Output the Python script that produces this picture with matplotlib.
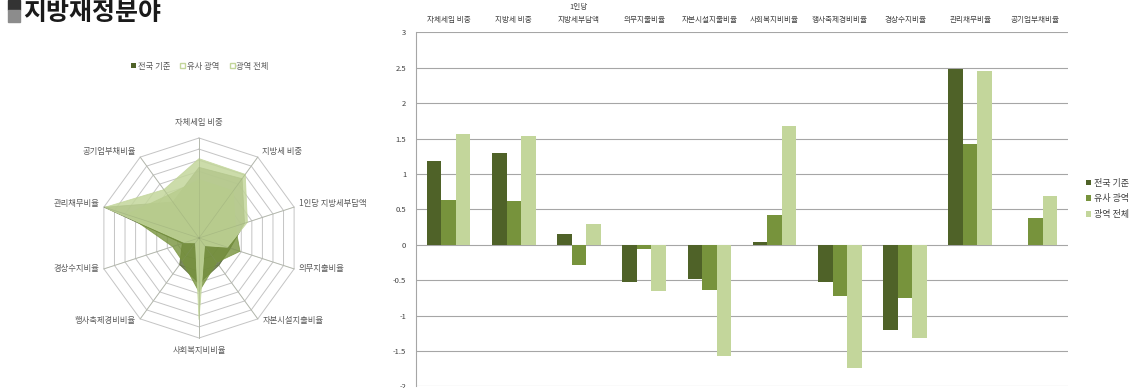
"""지방재정분야 — radar + grouped bar chart."""
import numpy as np
import matplotlib
matplotlib.use("Agg")
import matplotlib.pyplot as plt
from matplotlib.patches import Patch, Rectangle
from matplotlib.ticker import FuncFormatter

plt.rcParams["font.family"] = ["Noto Sans CJK KR", "DejaVu Sans"]

# ---- data ----
categories = ["자체세입 비중", "지방세 비중", "1인당\n지방세부담액", "의무지출비율", "자본시설지출비율",
              "사회복지비비율", "행사축제경비비율", "경상수지비율", "관리채무비율", "공기업부채비율"]
radar_labels = ["자체세입 비중", "지방세 비중", "1인당 지방세부담액", "의무지출비율", "자본시설지출비율",
                "사회복지비비율", "행사축제경비비율", "경상수지비율", "관리채무비율", "공기업부채비율"]
series_names = ["전국 기준", "유사 광역", "광역 전체"]
national = [1.18, 1.30, 0.155, -0.52, -0.48, 0.04, -0.52, -1.21, 2.48, 0.0]
similar = [0.63, 0.62, -0.28, -0.06, -0.645, 0.42, -0.72, -0.75, 1.42, 0.38]
metro = [1.57, 1.54, 0.29, -0.655, -1.575, 1.68, -1.735, -1.32, 2.46, 0.69]
y_ticks = [-2, -1.5, -1, -0.5, 0, 0.5, 1, 1.5, 2, 2.5, 3]
radar_min, radar_max, radar_step = -2.0, 2.5, 0.5

COLORS = {
    "dark":  "#4f6228",
    "mid":   "#77933c",
    "light": "#c3d69b",
    "grid":  "#a6a6a6",
    "rgrid": "#c4c4c4",
    "text":  "#404040",
    "rtext": "#5a5a5a",
}
series_colors = [COLORS["dark"], COLORS["mid"], COLORS["light"]]
radar_alpha = [0.75, 0.8, 0.85]
all_series = [national, similar, metro]

W, H = 1139, 388
fig = plt.figure(figsize=(W / 100, H / 100), dpi=100)

# ---- title ----
fig.patches.append(Rectangle((7.5 / W, 1 - 9.5 / H), 12.5 / W, 9.5 / H,
                             transform=fig.transFigure, color="#333333"))
fig.patches.append(Rectangle((7.5 / W, 1 - 22 / H), 12.5 / W, 12.5 / H,
                             transform=fig.transFigure, color="#8c8c8c"))
fig.text(23 / W, 1 - 12.5 / H, "지방재정분야", fontsize=18, fontweight="bold",
         color="#1a1a1a", va="center", ha="left")

# ---- radar (left) ----
rax = fig.add_axes([0, 0, 380 / W, (H - 40) / H])
rax.set_xlim(-1.99, 1.81)
rax.set_ylim(-1.50, 1.98)
rax.axis("off")

n = len(radar_labels)
theta = np.pi / 2 - np.arange(n) * 2 * np.pi / n
ring_levels = np.arange(radar_min + radar_step, radar_max + 1e-9, radar_step)


def to_xy(vals):
    r = (np.asarray(vals, dtype=float) - radar_min) / (radar_max - radar_min)
    x = r * np.cos(theta)
    y = r * np.sin(theta)
    return np.append(x, x[0]), np.append(y, y[0])


for lvl in ring_levels:
    x, y = to_xy([lvl] * n)
    rax.plot(x, y, color=COLORS["rgrid"], lw=0.7, zorder=1)
for t in theta:
    rax.plot([0, np.cos(t)], [0, np.sin(t)], color=COLORS["rgrid"], lw=0.7, zorder=1)

for vals, c, a in zip(all_series, series_colors, radar_alpha):
    x, y = to_xy(vals)
    rax.fill(x, y, color=c, alpha=a, lw=0.6, zorder=2)
# spokes faintly visible through the fill
for t in theta:
    rax.plot([0, np.cos(t)], [0, np.sin(t)], color="#8a9a70", lw=0.5, alpha=0.35, zorder=3)

for t, lab in zip(theta, radar_labels):
    cx, cy = np.cos(t), np.sin(t)
    if abs(cx) < 1e-6:
        rax.text(0, cy * 1.15 if cy > 0 else cy * 1.12, lab, ha="center", va="center",
                 fontsize=6, color=COLORS["rtext"])
    else:
        ha = "left" if cx > 0 else "right"
        rax.text(cx + np.sign(cx) * 0.045, cy * 1.04 + 0.02, lab, ha=ha, va="center",
                 fontsize=6, color=COLORS["rtext"])

rleg = [Patch(facecolor=COLORS["dark"], edgecolor="none"),
        Patch(facecolor="white", edgecolor=COLORS["light"]),
        Patch(facecolor="white", edgecolor=COLORS["light"])]
fig.legend(rleg, series_names, loc="center", bbox_to_anchor=(200 / W, 1 - 66 / H),
           ncol=3, frameon=False, fontsize=6, handlelength=0.6, handleheight=0.6,
           handletextpad=0.2, columnspacing=1.2, labelcolor=COLORS["rtext"])

# ---- bar chart (right) ----
ax = fig.add_axes([416 / W, (H - 386.4) / H, 652 / W, (386.4 - 32.3) / H])
xpos = np.arange(len(categories))
bw = 2 / 9
for i, (vals, c, name) in enumerate(zip(all_series, series_colors, series_names)):
    ax.bar(xpos + (i - 1) * bw, vals, width=bw, color=c, label=name, zorder=3)

ax.set_xlim(-0.5, len(categories) - 0.5)
ax.set_ylim(-2, 3)
ax.set_yticks(y_ticks)
ax.yaxis.set_major_formatter(FuncFormatter(lambda v, _: f"{v:g}"))
ax.grid(True, axis="y", color=COLORS["grid"], lw=0.8, zorder=0)
ax.xaxis.tick_top()
ax.set_xticks(xpos)
ax.set_xticklabels(categories, fontsize=5.5, color=COLORS["text"], linespacing=1.9)
ax.tick_params(axis="x", length=0, pad=6)
ax.tick_params(axis="y", length=0, pad=7, labelsize=5.5, labelcolor=COLORS["text"])
for s in ("top", "right", "bottom"):
    ax.spines[s].set_visible(False)
ax.spines["left"].set_color(COLORS["grid"])
ax.spines["left"].set_linewidth(0.8)

ax.legend(loc="center left", bbox_to_anchor=(1078 / W, 1 - 199 / H),
          bbox_transform=fig.transFigure, frameon=False, fontsize=6.5,
          handlelength=0.55, handleheight=0.6, handletextpad=0.3, labelspacing=0.75,
          labelcolor=COLORS["text"])

fig.savefig("out.png", dpi=100)
